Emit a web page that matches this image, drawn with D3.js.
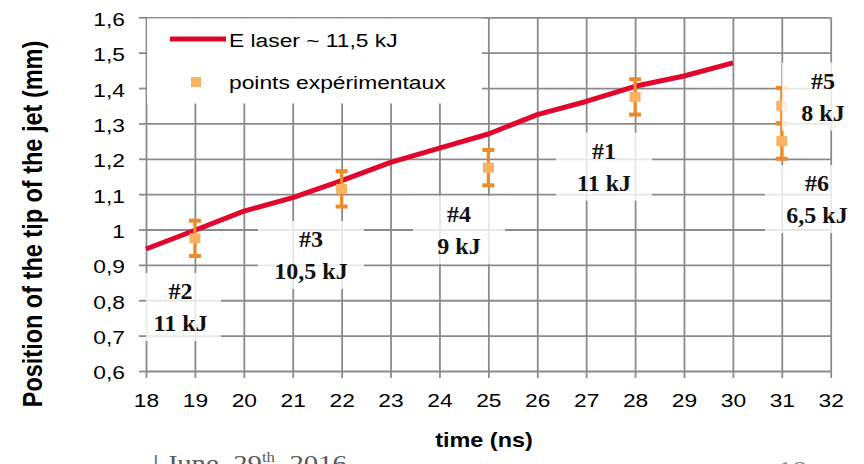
<!DOCTYPE html>
<html>
<head>
<meta charset="utf-8">
<script src="https://cdn.jsdelivr.net/npm/d3@7"></script>
<style>
  html, body { margin: 0; padding: 0; background: #fff; }
  svg { display: block; }
</style>
</head>
<body>
<svg id="chart" width="864" height="464"></svg>
<script>
// Simulated position of the jet tip, E laser ~ 11,5 kJ
const simTime = [18, 19, 20, 21, 22, 23, 24, 25, 26, 27, 28, 29, 30];
const simPosition = [0.945, 0.998, 1.052, 1.09, 1.138, 1.19, 1.23, 1.27, 1.325, 1.362, 1.405, 1.434, 1.471];

// Experimental shots
const shotIds = ["#2", "#3", "#4", "#1", "#5", "#6"];
const shotEnergy = ["11 kJ", "10,5 kJ", "9 kJ", "11 kJ", "8 kJ", "6,5 kJ"];
const shotTime = [19, 22, 25, 28, 31, 31];
const shotPosition = [0.975, 1.115, 1.175, 1.375, 1.35, 1.25];
const shotError = [0.05, 0.05, 0.05, 0.05, 0.05, 0.05];

// Axis ticks
const xTicks = [18, 19, 20, 21, 22, 23, 24, 25, 26, 27, 28, 29, 30, 31, 32];
const yTicks = [0.6, 0.7, 0.8, 0.9, 1.0, 1.1, 1.2, 1.3, 1.4, 1.5, 1.6];
const yTickLabels = ["0,6", "0,7", "0,8", "0,9", "1", "1,1", "1,2", "1,3", "1,4", "1,5", "1,6"];

const seriesNames = ["E laser ~ 11,5 kJ", "points expérimentaux"];

// ---- layout & style ----
const GRID = "#8b8b8b";
const RED = "#e1062c";
const ORANGE = "#f08a28";
const ORANGE_LIGHT = "#f8b264";
const SX = 1.2;              // horizontal stretch of the lettering
const SANS = "'Liberation Sans', Arial, sans-serif";
const SERIF = "'Liberation Serif', 'Times New Roman', serif";

const svg = d3.select("#chart");

const x = d3.scaleLinear().domain([18, 32]).range([146, 830.7]);
const y = d3.scaleLinear().domain([0.6, 1.6]).range([371, 17.3]);

// Shot label boxes: anchor in data units, box width in px
const labelLayout = [
  { t: 18.705, v: 0.781, w: 81 },
  { t: 21.374, v: 0.928, w: 106 },
  { t: 24.40,  v: 0.999, w: 92 },
  { t: 27.365, v: 1.178, w: 96 },
  { t: 31.843, v: 1.376, w: 82 },
  { t: 31.72,  v: 1.086, w: 104 }
];

// ---- grid ----
const grid = svg.append("g");
grid.append("g")
  .attr("transform", `translate(${x(18)},0)`)
  .call(d3.axisLeft(y).tickValues(yTicks).tickSize(-(x(32) - x(18))).tickFormat(""))
  .call(s => s.select(".domain").remove())
  .call(s => s.selectAll("line").attr("stroke", GRID).attr("stroke-width", 1.8));
grid.append("g")
  .attr("transform", `translate(0,${y(0.6)})`)
  .call(d3.axisBottom(x).tickValues(xTicks).tickSize(-(y(0.6) - y(1.6))).tickFormat(""))
  .call(s => s.select(".domain").remove())
  .call(s => s.selectAll("line").attr("stroke", GRID).attr("stroke-width", 1.8));

// ---- legend background ----
svg.append("rect")
  .attr("x", x(18) + 1).attr("y", y(1.6) + 1.2)
  .attr("width", 335).attr("height", 85)
  .attr("fill", "#fff");

// ---- simulated curve ----
const simData = simTime.map((t, i) => ({ t, v: simPosition[i] }));
svg.append("path")
  .datum(simData)
  .attr("fill", "none")
  .attr("stroke", RED)
  .attr("stroke-width", 5)
  .attr("stroke-linejoin", "round")
  .attr("d", d3.line().x(d => x(d.t)).y(d => y(d.v)));

// ---- experimental points with error bars ----
const shots = shotIds.map((id, i) => ({
  id, energy: shotEnergy[i], t: shotTime[i], v: shotPosition[i], e: shotError[i], lay: labelLayout[i]
}));

const eb = svg.append("g").selectAll("g").data(shots).join("g");
eb.append("line")
  .attr("x1", d => x(d.t)).attr("x2", d => x(d.t))
  .attr("y1", d => y(d.v - d.e)).attr("y2", d => y(d.v + d.e))
  .attr("stroke", ORANGE).attr("stroke-width", 3.2);
eb.append("line")
  .attr("x1", d => x(d.t) - 6).attr("x2", d => x(d.t) + 6)
  .attr("y1", d => y(d.v + d.e)).attr("y2", d => y(d.v + d.e))
  .attr("stroke", ORANGE).attr("stroke-width", 4);
eb.append("line")
  .attr("x1", d => x(d.t) - 6).attr("x2", d => x(d.t) + 6)
  .attr("y1", d => y(d.v - d.e)).attr("y2", d => y(d.v - d.e))
  .attr("stroke", ORANGE).attr("stroke-width", 4);
eb.append("rect")
  .attr("x", d => x(d.t) - 5.5).attr("y", d => y(d.v) - 5)
  .attr("width", 11).attr("height", 10)
  .attr("fill", ORANGE_LIGHT);

// ---- shot labels ----
const lab = svg.append("g").selectAll("g").data(shots).join("g")
  .attr("transform", d => `translate(${x(d.lay.t)},${y(d.lay.v)})`);
lab.append("rect")
  .attr("x", d => -d.lay.w / 2).attr("y", -34)
  .attr("width", d => d.lay.w).attr("height", 68)
  .attr("fill", "#fff").attr("fill-opacity", 0.8);
lab.append("text")
  .attr("y", -8)
  .attr("text-anchor", "middle")
  .attr("font-family", SERIF).attr("font-weight", "bold").attr("font-size", 24)
  .attr("fill", "#111")
  .text(d => d.id);
lab.append("text")
  .attr("y", 24)
  .attr("text-anchor", "middle")
  .attr("font-family", SERIF).attr("font-weight", "bold").attr("font-size", 24)
  .attr("fill", "#111")
  .text(d => d.energy);

// ---- axes ----
svg.append("g")
  .attr("transform", `translate(${x(18)},0)`)
  .call(d3.axisLeft(y).tickValues(yTicks).tickSize(7).tickFormat((d, i) => yTickLabels[i]))
  .call(s => s.select(".domain").remove())
  .call(s => s.selectAll("line").attr("stroke", GRID).attr("stroke-width", 1.8))
  .call(s => s.selectAll("text")
    .attr("x", null).attr("dy", "0.42em")
    .attr("transform", `translate(-21,0) scale(${SX},1)`)
    .attr("font-family", SANS).attr("font-size", 19).attr("fill", "#000"));

svg.append("g")
  .attr("transform", `translate(0,${y(0.6)})`)
  .call(d3.axisBottom(x).tickValues(xTicks).tickSize(7).tickFormat(d => String(d)))
  .call(s => s.select(".domain").remove())
  .call(s => s.selectAll("line").attr("stroke", GRID).attr("stroke-width", 1.8))
  .call(s => s.selectAll("text")
    .attr("y", 35.7).attr("dy", null)
    .attr("transform", `scale(${SX},1)`)
    .attr("font-family", SANS).attr("font-size", 19).attr("fill", "#000"));

// ---- legend ----
const leg = svg.append("g");
leg.append("line")
  .attr("x1", 170).attr("x2", 226).attr("y1", 39).attr("y2", 39)
  .attr("stroke", RED).attr("stroke-width", 5);
leg.append("text")
  .attr("transform", `translate(229,46.5) scale(${SX},1)`)
  .attr("font-family", SANS).attr("font-size", 19).attr("fill", "#000")
  .text(seriesNames[0]);
leg.append("rect")
  .attr("x", 191).attr("y", 77).attr("width", 10).attr("height", 10)
  .attr("fill", ORANGE_LIGHT);
leg.append("text")
  .attr("transform", `translate(229,89.3) scale(${SX},1)`)
  .attr("font-family", SANS).attr("font-size", 19).attr("fill", "#000")
  .text(seriesNames[1]);

// ---- axis titles ----
svg.append("text")
  .attr("transform", `translate(41.5,224) scale(${SX},1) rotate(-90)`)
  .attr("text-anchor", "middle")
  .attr("font-family", SANS).attr("font-weight", "bold").attr("font-size", 23.5)
  .attr("fill", "#000")
  .text("Position of the tip of the jet (mm)");

svg.append("text")
  .attr("transform", `translate(484,447) scale(${SX},1)`)
  .attr("text-anchor", "middle")
  .attr("font-family", SANS).attr("font-weight", "bold").attr("font-size", 19.5)
  .attr("fill", "#000")
  .text("time (ns)");

// ---- slide footer ----
const foot = svg.append("text")
  .attr("transform", `translate(153,471) scale(${SX},1)`)
  .attr("font-family", SERIF).attr("font-size", 24).attr("fill", "#5a5a5a");
foot.append("tspan").text("| June, 29");
foot.append("tspan").attr("font-size", 14).attr("dy", -9).text("th");
foot.append("tspan").attr("dy", 9).text(", 2016");

svg.append("text")
  .attr("transform", `translate(778,477) scale(${SX},1)`)
  .attr("font-family", SERIF).attr("font-size", 24).attr("fill", "#8a8a8a")
  .text("18");
</script>
</body>
</html>
